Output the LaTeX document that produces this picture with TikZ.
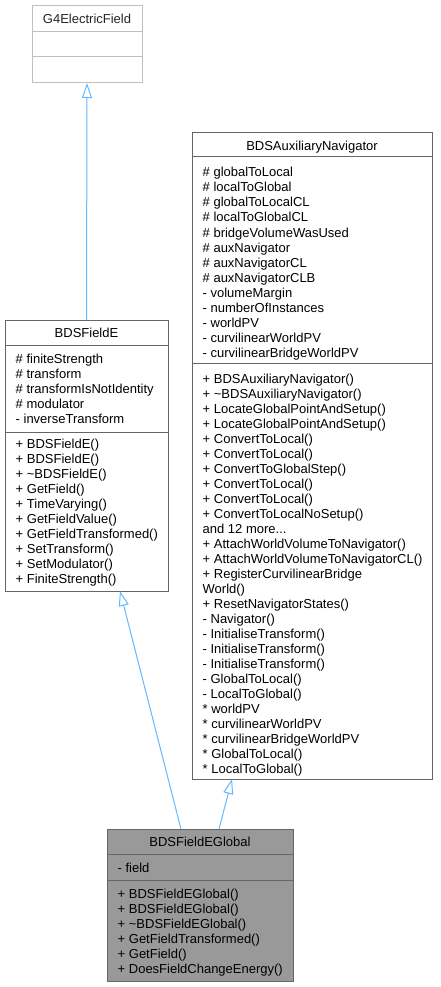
\documentclass[tikz,border=0pt]{standalone}
\usepackage{fontspec}
\setmainfont{Liberation Sans}
\usetikzlibrary{arrows.meta}
\definecolor{boxgray}{HTML}{666666}
\definecolor{lightgray}{HTML}{BFBFBF}
\definecolor{fillgray}{HTML}{999999}
\definecolor{edgeblue}{HTML}{63B8FF}
\begin{document}
\begin{tikzpicture}[x=1pt,y=-1pt,
  umlbox/.style={draw=boxgray, line width=1pt, inner sep=0pt, outer sep=0pt, anchor=north west},
  divline/.style={draw=boxgray, line width=1pt},
  txt/.style={anchor=base west, inner sep=0pt, font=\fontsize{13}{15}\selectfont},
  hd/.style={anchor=base, inner sep=0pt, font=\fontsize{13}{15}\selectfont},
  inh/.style={draw=edgeblue, line width=1pt, -{Triangle[open, length=15pt, width=10pt]}}]
\useasboundingbox (0,0) rectangle (440,987);

% G4ElectricField
\node[umlbox, draw=lightgray, minimum width=110pt, minimum height=77pt] (g4) at (32,6) {};
\draw[divline, draw=lightgray] (g4.west |- 0,32) -- (g4.east |- 0,32);
\draw[divline, draw=lightgray] (g4.west |- 0,57) -- (g4.east |- 0,57);
\node[hd, text=black!85] (g4t) at (87,24) {G4ElectricField};

% BDSFieldE
\node[umlbox, minimum width=163pt, minimum height=271pt] (fe) at (5,320) {};
\draw[divline] (fe.west |- 0,345) -- (fe.east |- 0,345);
\draw[divline] (fe.west |- 0,432) -- (fe.east |- 0,432);
\node[hd] (fet) at (86.5,337) {BDSFieldE};
\foreach \t [count=\i from 0] in {\# finiteStrength, \# transform, \# transformIsNotIdentity, \# modulator, - inverseTransform}
  \node[txt] (fea\i) at (15.5,{363+15*\i}) {\t};
\foreach \t [count=\i from 0] in {+ BDSFieldE(), + BDSFieldE(), + \textasciitilde BDSFieldE(), + GetField(), + TimeVarying(), + GetFieldValue(), + GetFieldTransformed(), + SetTransform(), + SetModulator(), + FiniteStrength()}
  \node[txt] (fem\i) at (15.5,{448+15*\i}) {\t};

% BDSAuxiliaryNavigator
\node[umlbox, minimum width=240pt, minimum height=646pt] (aux) at (192,133) {};
\draw[divline] (aux.west |- 0,157) -- (aux.east |- 0,157);
\draw[divline] (aux.west |- 0,363) -- (aux.east |- 0,363);
\node[hd] (auxt) at (312,151) {BDSAuxiliaryNavigator};
\foreach \t [count=\i from 0] in {\# globalToLocal, \# localToGlobal, \# globalToLocalCL, \# localToGlobalCL, \# bridgeVolumeWasUsed, \# auxNavigator, \# auxNavigatorCL, \# auxNavigatorCLB, - volumeMargin, - numberOfInstances, - worldPV, - curvilinearWorldPV, - curvilinearBridgeWorldPV}
  \node[txt] (auxa\i) at (202.5,{177+15*\i}) {\t};
\foreach \t [count=\i from 0] in {+ BDSAuxiliaryNavigator(), + \textasciitilde BDSAuxiliaryNavigator(), + LocateGlobalPointAndSetup(), + LocateGlobalPointAndSetup(), + ConvertToLocal(), + ConvertToLocal(), + ConvertToGlobalStep(), + ConvertToLocal(), + ConvertToLocal(), + ConvertToLocalNoSetup()}
  \node[txt] (auxm\i) at (202.5,{383+15*\i}) {\t};
\node[txt] (auxmore) at (202.5,533) {and 12 more...};
\foreach \t [count=\i from 11] in {+ AttachWorldVolumeToNavigator(), + AttachWorldVolumeToNavigatorCL(), + RegisterCurvilinearBridge, World(), + ResetNavigatorStates(), - Navigator(), - InitialiseTransform(), - InitialiseTransform(), - InitialiseTransform(), - GlobalToLocal(), - LocalToGlobal(), * worldPV, * curvilinearWorldPV, * curvilinearBridgeWorldPV, * GlobalToLocal(), * LocalToGlobal()}
  \node[txt] (auxm\i) at (202.5,{383+15*\i}) {\t};

% BDSFieldEGlobal
\node[umlbox, fill=fillgray, minimum width=186pt, minimum height=152pt] (feg) at (107,829) {};
\draw[divline] (feg.west |- 0,854) -- (feg.east |- 0,854);
\draw[divline] (feg.west |- 0,880) -- (feg.east |- 0,880);
\node[hd] (fegt) at (200,846) {BDSFieldEGlobal};
\node[txt] (fega0) at (117.5,872) {- field};
\foreach \t [count=\i from 0] in {+ BDSFieldEGlobal(), + BDSFieldEGlobal(), + \textasciitilde BDSFieldEGlobal(), + GetFieldTransformed(), + GetField(), + DoesFieldChangeEnergy()}
  \node[txt] (fegm\i) at (117.5,{898+15*\i}) {\t};

% inheritance connectors
\draw[inh] (fe.north) -- (g4.south);
\draw[inh] ([xshift=74pt]feg.north west) -- ([xshift=115pt]fe.south west);
\draw[inh] ([xshift=112pt]feg.north west) -- ([xshift=40pt]aux.south west);
\end{tikzpicture}
\end{document}
